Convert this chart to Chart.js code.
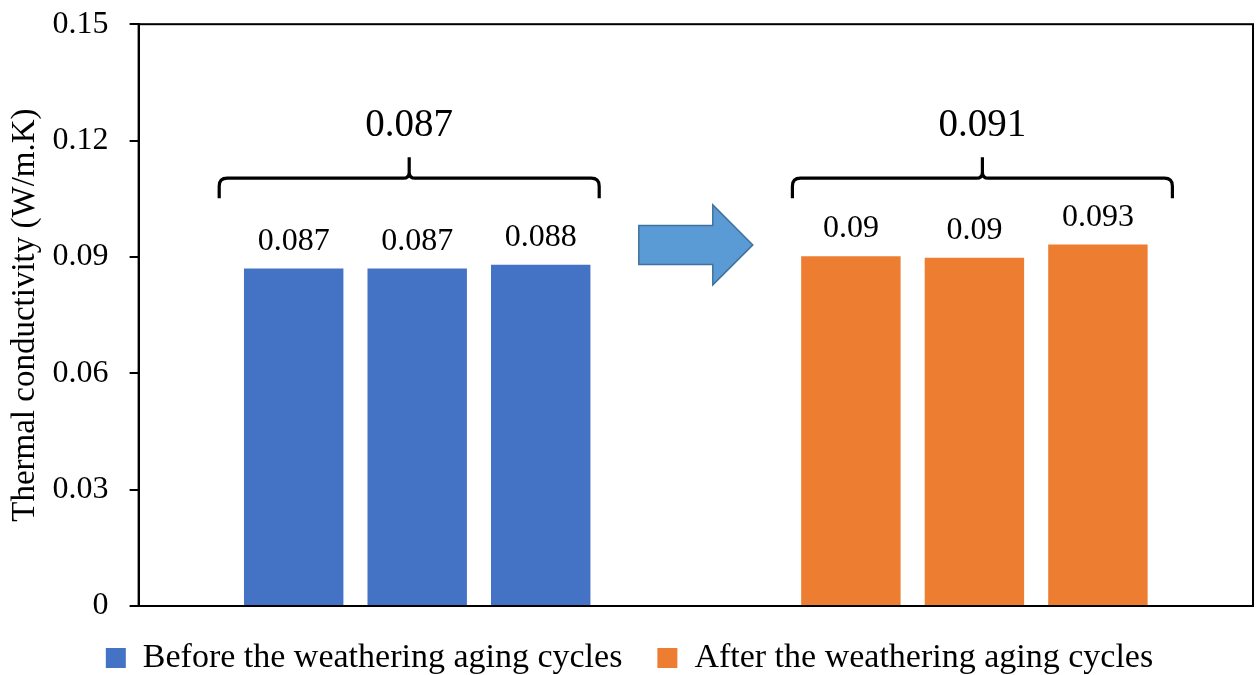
<!DOCTYPE html>
<html><head><meta charset="utf-8">
<script src="https://cdn.jsdelivr.net/npm/chart.js@4.4.1/dist/chart.umd.min.js"></script>
<style>html,body{margin:0;padding:0;background:#fff;} #wrap{width:1256px;height:675px;position:relative;}</style>
</head><body><div id="wrap"><canvas id="c"></canvas></div>
<script>
const categories = ['Before the weathering aging cycles', 'After the weathering aging cycles'];
const beforeValues = [0.087, 0.087, 0.088];
const afterValues = [0.0902, 0.0898, 0.0932];
const seriesColors = ['#4472C4', '#ED7D31'];
const yTicks = [0, 0.03, 0.06, 0.09, 0.12, 0.15];
const yTitle = 'Thermal conductivity (W/m.K)';

const FONT = "'Liberation Serif', 'Times New Roman', serif";
const groups = [beforeValues, afterValues];
const fmt3 = v => String(Number(v.toFixed(3)));
const mean = a => a.reduce((s, v) => s + v, 0) / a.length;

const datasets = beforeValues.map((_, i) => ({
  label: 'Sample ' + (i + 1),
  data: groups.map(g => g[i]),
  backgroundColor: seriesColors,
  borderWidth: 0
}));

const overlay = {
  id: 'overlay',
  beforeDatasetsDraw(chart) {
    const { ctx, chartArea: a } = chart;
    ctx.save();
    ctx.strokeStyle = '#000';
    ctx.lineWidth = 2;
    ctx.strokeRect(a.left, a.top, a.right - a.left, a.bottom - a.top);
    ctx.restore();
  },
  afterDatasetsDraw(chart) {
    const { ctx } = chart;
    const xs = chart.scales.x, ys = chart.scales.y;
    ctx.save();
    // value labels
    ctx.fillStyle = '#000';
    ctx.textAlign = 'center';
    ctx.textBaseline = 'alphabetic';
    ctx.font = '32px ' + FONT;
    chart.data.datasets.forEach((ds, di) => {
      chart.getDatasetMeta(di).data.forEach((bar, i) => {
        ctx.fillText(fmt3(ds.data[i]), bar.x, bar.y - 19);
      });
    });
    // braces with group means
    const shift = [-8, 8];
    const lineY = ys.getPixelForValue(0.1103);
    groups.forEach((g, gi) => {
      const c = xs.getPixelForValue(gi) + shift[gi];
      const L = c - 190, R = c + 190;
      ctx.strokeStyle = '#000';
      ctx.lineWidth = 3.2;
      ctx.lineJoin = 'round';
      ctx.lineCap = 'butt';
      ctx.beginPath();
      ctx.moveTo(L, lineY + 20);
      ctx.lineTo(L, lineY + 8);
      ctx.quadraticCurveTo(L, lineY, L + 8, lineY);
      ctx.lineTo(c - 6, lineY);
      ctx.quadraticCurveTo(c, lineY, c, lineY - 6);
      ctx.lineTo(c, lineY - 21);
      ctx.moveTo(R, lineY + 20);
      ctx.lineTo(R, lineY + 8);
      ctx.quadraticCurveTo(R, lineY, R - 8, lineY);
      ctx.lineTo(c + 6, lineY);
      ctx.quadraticCurveTo(c, lineY, c, lineY - 6);
      ctx.stroke();
      ctx.font = '39px ' + FONT;
      ctx.textBaseline = 'middle';
      ctx.fillText(fmt3(mean(g)), c, lineY - 52);
    });
    // arrow
    const cx = (xs.getPixelForValue(0) + xs.getPixelForValue(1)) / 2;
    const cy = ys.getPixelForValue(0.0931);
    ctx.beginPath();
    ctx.moveTo(cx - 57, cy - 19.5);
    ctx.lineTo(cx + 17, cy - 19.5);
    ctx.lineTo(cx + 17, cy - 40);
    ctx.lineTo(cx + 57, cy);
    ctx.lineTo(cx + 17, cy + 40);
    ctx.lineTo(cx + 17, cy + 19.5);
    ctx.lineTo(cx - 57, cy + 19.5);
    ctx.closePath();
    ctx.fillStyle = '#5B9BD5';
    ctx.fill();
    ctx.strokeStyle = '#41719C';
    ctx.lineWidth = 1.5;
    ctx.lineJoin = 'miter';
    ctx.stroke();
    ctx.restore();
  }
};

new Chart(document.getElementById('c'), {
  type: 'bar',
  data: { labels: categories, datasets },
  options: {
    responsive: true,
    maintainAspectRatio: false,
    animation: false,
    devicePixelRatio: 1,
    categoryPercentage: 0.665,
    barPercentage: 0.805,
    layout: { padding: { top: 17, right: 3, left: 6, bottom: -10 } },
    plugins: {
      tooltip: { enabled: false },
      legend: {
        display: true,
        position: 'bottom',
        onClick: null,
        labels: {
          font: { family: FONT, size: 34 },
          color: '#000',
          boxWidth: 20,
          boxHeight: 20,
          padding: 35,
          generateLabels: () => categories.map((c, i) => ({
            text: c, fillStyle: seriesColors[i], strokeStyle: seriesColors[i],
            lineWidth: 0, hidden: false, datasetIndex: 0
          }))
        }
      }
    },
    scales: {
      x: { display: false },
      y: {
        min: 0, max: 0.15,
        afterBuildTicks: s => { s.ticks = yTicks.map(v => ({ value: v })); },
        ticks: {
          font: { family: FONT, size: 32, lineHeight: 0.2 },
          color: '#000',
          padding: 21,
          callback: v => String(Number(Number(v).toFixed(2)))
        },
        grid: { display: true, drawOnChartArea: false, drawTicks: true, tickLength: 9, color: '#000', lineWidth: 2 },
        border: { display: true, color: '#000', width: 2 },
        title: {
          display: true, text: yTitle, color: '#000',
          font: { family: FONT, size: 33 },
          padding: { top: 0, bottom: -14 }
        }
      }
    }
  },
  plugins: [overlay]
});
</script>
</body></html>
